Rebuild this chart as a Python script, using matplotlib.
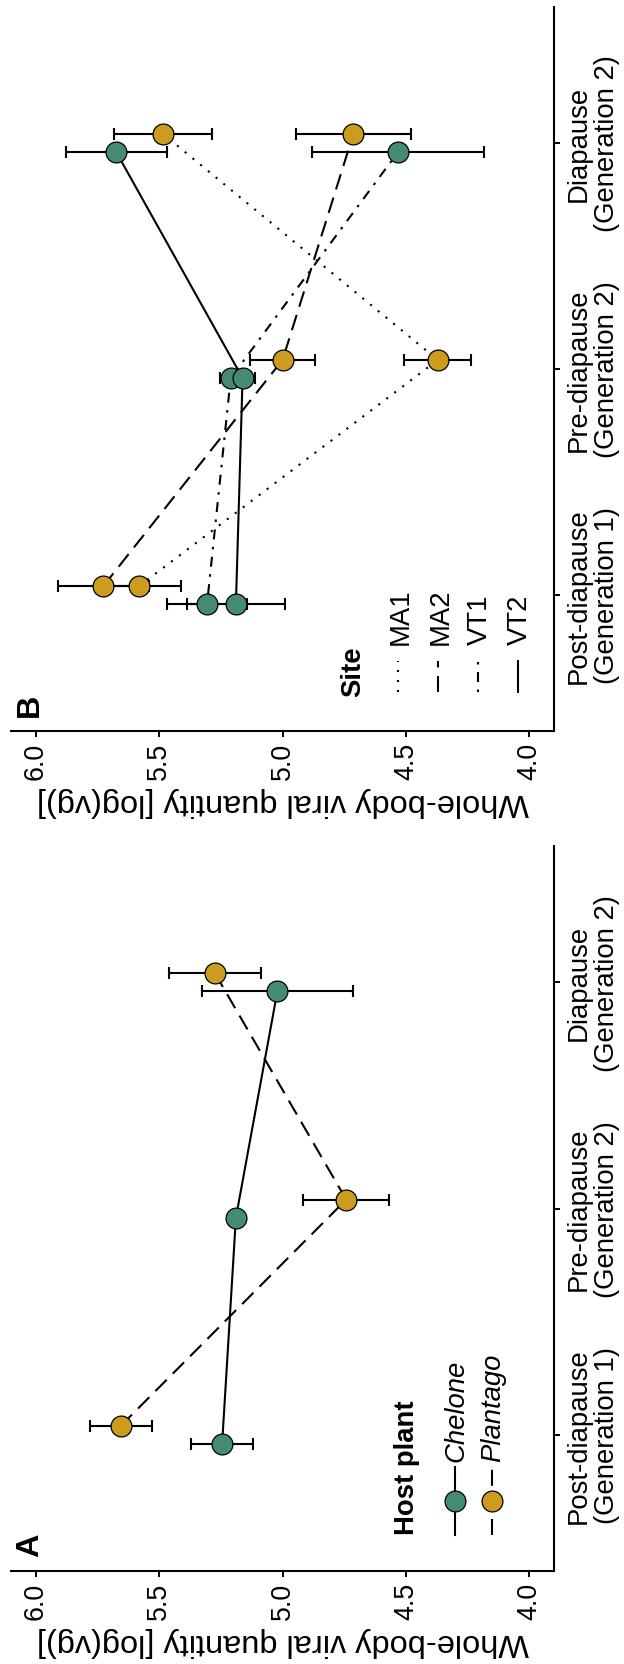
import matplotlib
matplotlib.use('Agg')
matplotlib.rcParams['font.family'] = ['Liberation Sans', 'DejaVu Sans']
import matplotlib.pyplot as plt

# figure is drawn "sideways": value axis runs along the bottom (6.0 -> 4.0),
# stages run bottom -> top along the right-hand axis
stages = ['Post-diapause\n(Generation 1)', 'Pre-diapause\n(Generation 2)', 'Diapause\n(Generation 2)']
stage_pos = [1, 2, 3]
value_ticks = [6.0, 5.5, 5.0, 4.5, 4.0]

# panel A: host plant means +/- se
chelone_mean = [5.245, 5.189, 5.021]
chelone_err = [0.125, 0.026, 0.307]
plantago_mean = [5.656, 4.742, 5.274]
plantago_err = [0.125, 0.174, 0.188]

# panel B: site means +/- se
ma1_mean = [5.581, 4.371, 5.484]
ma1_err = [0.170, 0.136, 0.200]
ma2_mean = [5.726, 5.000, 4.713]
ma2_err = [0.185, 0.130, 0.234]
vt1_mean = [5.306, 5.210, 4.532]
vt1_err = [0.162, 0.045, 0.350]
vt2_mean = [5.189, 5.162, 5.674]
vt2_err = [0.198, 0.050, 0.205]

green = '#458B74'
gold = '#CD9B1D'
dotted = (0, (1, 3.8))
dashed = (0, (7.7, 4.1))
dotdash = (0, (1.2, 3.6, 4.8, 3.6))
dodge = 0.04
LW = 1.5

W, H = 624, 1665
fig = plt.figure(figsize=(W / 100, H / 100), dpi=100)


def px_box(x0, y0, x1, y1):
    return [x0 / W, 1 - y1 / H, (x1 - x0) / W, (y1 - y0) / H]


def style(ax):
    ax.set_xlim(6.1, 3.9)
    ax.set_ylim(0.4, 3.6)
    ax.set_xticks(value_ticks)
    ax.set_xticklabels(['%.1f' % v for v in value_ticks], rotation=90, fontsize=19.3)
    ax.yaxis.tick_right()
    ax.set_yticks(stage_pos)
    ax.set_yticklabels(stages, rotation=90, fontsize=19.8, ha='left', va='center',
                       multialignment='center', linespacing=1.12)
    for s in ['left', 'top']:
        ax.spines[s].set_visible(False)
    for s in ['right', 'bottom']:
        ax.spines[s].set_linewidth(1.5)
    ax.tick_params(length=4.2, width=1.4, pad=4, colors='black')
    ax.set_xlabel('Whole-body viral quantity [log(vg)]', rotation=180, fontsize=23.4, labelpad=5)


def draw(ax, mean, err, color, ls, shift):
    y = [p + shift for p in stage_pos]
    ax.plot(mean, y, color='black', lw=LW, ls=ls, zorder=2)
    ax.errorbar(mean, y, xerr=err, fmt='none', ecolor='black', elinewidth=LW,
                capsize=4.2, capthick=LW, zorder=3)
    ax.plot(mean, y, marker='o', ls='none', ms=15, mfc=color, mec='black', mew=0.9, zorder=4)


def rtext(x, y, s, **kw):
    # rotated text anchored at the start of its baseline
    ov.text(x, y, s, rotation=90, rotation_mode='anchor', ha='left', va='baseline', **kw)


axA = fig.add_axes(px_box(11.1, 847.5, 554.0, 1571.8))
axB = fig.add_axes(px_box(11.1, 8.4, 554.0, 731.6))
style(axA)
style(axB)

draw(axA, chelone_mean, chelone_err, green, '-', -dodge)
draw(axA, plantago_mean, plantago_err, gold, dashed, dodge)

draw(axB, ma1_mean, ma1_err, gold, dotted, dodge)
draw(axB, ma2_mean, ma2_err, gold, dashed, dodge)
draw(axB, vt1_mean, vt1_err, green, dotdash, -dodge)
draw(axB, vt2_mean, vt2_err, green, '-', -dodge)

# overlay in pixel units for panel tags and the legends
ov = fig.add_axes([0, 0, 1, 1])
ov.set_xlim(0, W)
ov.set_ylim(H, 0)
ov.axis('off')

rtext(38, 1557, 'A', fontsize=23.4, fontweight='bold')
rtext(38, 717, 'B', fontsize=23.4, fontweight='bold')

# legend A
rtext(414, 1535, 'Host plant', fontsize=19.8, fontweight='bold')
host_names = ['Chelone', 'Plantago']
host_colors = [green, gold]
host_ls = ['-', dashed]
for i, name in enumerate(host_names):
    x = 455 + 36.5 * i
    ov.plot([x, x], [1536, 1468], color='black', lw=LW, ls=host_ls[i])
    ov.plot(x, 1502, marker='o', ms=15, mfc=host_colors[i], mec='black', mew=0.9)
    rtext(x + 8.8, 1462, name, fontsize=19.8, style='italic')

# legend B
rtext(360, 697, 'Site', fontsize=19.8, fontweight='bold')
site_names = ['MA1', 'MA2', 'VT1', 'VT2']
site_ls = [dotted, dashed, dotdash, '-']
for i, name in enumerate(site_names):
    x = 398.3 + 40 * i
    ov.plot([x, x], [693.3, 661.7], color='black', lw=LW, ls=site_ls[i])
    rtext(x + 9, 645, name, fontsize=19.8)

fig.savefig('out.png', dpi=100)
